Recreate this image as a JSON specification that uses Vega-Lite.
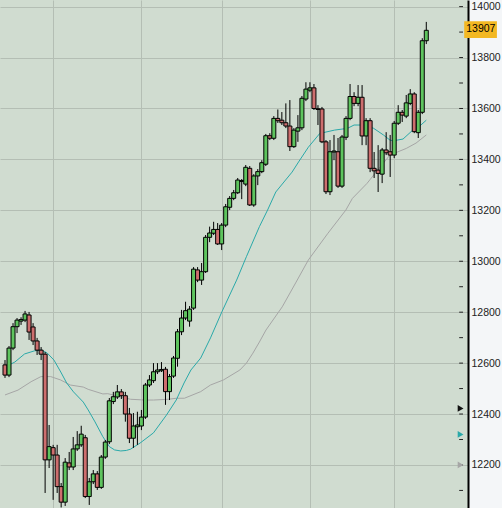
{
  "$schema": "https://vega.github.io/schema/vega-lite/v6.json",
  "width": 468,
  "height": 508,
  "autosize": {"type": "none"},
  "padding": {"left": 0, "top": 0, "right": 34, "bottom": 0},
  "background": "#f4f6f8",
  "config": {
    "view": {"fill": "#d0dcd0", "stroke": null},
    "font": "Liberation Sans",
    "axisX": {"labels": false, "ticks": false, "domain": false, "grid": true, "gridColor": "#b4beb4", "gridWidth": 1, "title": null},
    "axisY": {"orient": "right", "grid": true, "gridColor": "#b4beb4", "gridWidth": 1, "ticks": false, "domainColor": "#000000", "domainWidth": 2, "labelPadding": 3, "labelFont": "Liberation Sans", "labelFontSize": 10.5, "labelColor": "#222222", "labelFlush": false, "labelOverlap": false, "title": null, "format": "d"}
  },
  "datasets": {
    "candles": [
      {"i":0,"open":12593,"high":12612,"low":12542,"close":12553},
      {"i":1,"open":12553,"high":12667,"low":12545,"close":12659},
      {"i":2,"open":12659,"high":12757,"low":12651,"close":12743},
      {"i":3,"open":12743,"high":12777,"low":12718,"close":12769},
      {"i":4,"open":12765,"high":12780,"low":12750,"close":12771},
      {"i":5,"open":12769,"high":12805,"low":12761,"close":12793},
      {"i":6,"open":12789,"high":12801,"low":12691,"close":12722},
      {"i":7,"open":12742,"high":12757,"low":12671,"close":12687},
      {"i":8,"open":12687,"high":12699,"low":12632,"close":12651},
      {"i":9,"open":12651,"high":12663,"low":12612,"close":12635},
      {"i":10,"open":12635,"high":12644,"low":12090,"close":12220},
      {"i":11,"open":12220,"high":12357,"low":12188,"close":12272},
      {"i":12,"open":12268,"high":12279,"low":12063,"close":12239},
      {"i":13,"open":12239,"high":12279,"low":12090,"close":12115},
      {"i":14,"open":12115,"high":12129,"low":12033,"close":12054},
      {"i":15,"open":12054,"high":12227,"low":12039,"close":12211},
      {"i":16,"open":12208,"high":12251,"low":12180,"close":12192},
      {"i":17,"open":12192,"high":12310,"low":12180,"close":12263},
      {"i":18,"open":12263,"high":12333,"low":12255,"close":12279},
      {"i":19,"open":12279,"high":12354,"low":12271,"close":12321},
      {"i":20,"open":12307,"high":12318,"low":12070,"close":12076},
      {"i":21,"open":12076,"high":12149,"low":12043,"close":12134},
      {"i":22,"open":12134,"high":12180,"low":12125,"close":12165},
      {"i":23,"open":12165,"high":12176,"low":12102,"close":12112},
      {"i":24,"open":12112,"high":12239,"low":12106,"close":12231},
      {"i":25,"open":12231,"high":12298,"low":12224,"close":12290},
      {"i":26,"open":12291,"high":12463,"low":12282,"close":12452},
      {"i":27,"open":12449,"high":12487,"low":12439,"close":12468},
      {"i":28,"open":12467,"high":12514,"low":12459,"close":12487},
      {"i":29,"open":12487,"high":12498,"low":12459,"close":12472},
      {"i":30,"open":12472,"high":12487,"low":12370,"close":12400},
      {"i":31,"open":12400,"high":12424,"low":12286,"close":12305},
      {"i":32,"open":12305,"high":12404,"low":12267,"close":12353},
      {"i":33,"open":12350,"high":12409,"low":12279,"close":12357},
      {"i":34,"open":12353,"high":12416,"low":12337,"close":12388},
      {"i":35,"open":12388,"high":12522,"low":12381,"close":12514},
      {"i":36,"open":12514,"high":12553,"low":12506,"close":12534},
      {"i":37,"open":12531,"high":12600,"low":12522,"close":12566},
      {"i":38,"open":12566,"high":12600,"low":12557,"close":12573},
      {"i":39,"open":12570,"high":12604,"low":12565,"close":12575},
      {"i":40,"open":12576,"high":12585,"low":12436,"close":12488},
      {"i":41,"open":12488,"high":12557,"low":12455,"close":12547},
      {"i":42,"open":12549,"high":12628,"low":12542,"close":12620},
      {"i":43,"open":12619,"high":12734,"low":12586,"close":12723},
      {"i":44,"open":12723,"high":12809,"low":12710,"close":12777},
      {"i":45,"open":12777,"high":12841,"low":12769,"close":12806},
      {"i":46,"open":12765,"high":12824,"low":12743,"close":12812},
      {"i":47,"open":12816,"high":12977,"low":12809,"close":12969},
      {"i":48,"open":12966,"high":12977,"low":12918,"close":12926},
      {"i":49,"open":12926,"high":12993,"low":12907,"close":12959},
      {"i":50,"open":12959,"high":13103,"low":12954,"close":13094},
      {"i":51,"open":13094,"high":13136,"low":13075,"close":13111},
      {"i":52,"open":13110,"high":13155,"low":13103,"close":13125},
      {"i":53,"open":13125,"high":13150,"low":13064,"close":13068},
      {"i":54,"open":13068,"high":13150,"low":13044,"close":13142},
      {"i":55,"open":13142,"high":13225,"low":13134,"close":13214},
      {"i":56,"open":13212,"high":13256,"low":13201,"close":13247},
      {"i":57,"open":13247,"high":13280,"low":13240,"close":13269},
      {"i":58,"open":13269,"high":13327,"low":13264,"close":13319},
      {"i":59,"open":13313,"high":13323,"low":13244,"close":13317},
      {"i":60,"open":13303,"high":13378,"low":13295,"close":13369},
      {"i":61,"open":13365,"high":13374,"low":13217,"close":13221},
      {"i":62,"open":13221,"high":13342,"low":13214,"close":13335},
      {"i":63,"open":13335,"high":13362,"low":13299,"close":13352},
      {"i":64,"open":13352,"high":13397,"low":13346,"close":13387},
      {"i":65,"open":13381,"high":13500,"low":13374,"close":13493},
      {"i":66,"open":13493,"high":13503,"low":13476,"close":13483},
      {"i":67,"open":13483,"high":13570,"low":13476,"close":13561},
      {"i":68,"open":13561,"high":13596,"low":13543,"close":13552},
      {"i":69,"open":13554,"high":13586,"low":13535,"close":13544},
      {"i":70,"open":13544,"high":13620,"low":13523,"close":13531},
      {"i":71,"open":13531,"high":13633,"low":13433,"close":13450},
      {"i":72,"open":13450,"high":13523,"low":13445,"close":13515},
      {"i":73,"open":13511,"high":13574,"low":13469,"close":13524},
      {"i":74,"open":13524,"high":13649,"low":13515,"close":13640},
      {"i":75,"open":13637,"high":13703,"low":13629,"close":13676},
      {"i":76,"open":13672,"high":13703,"low":13664,"close":13681},
      {"i":77,"open":13681,"high":13696,"low":13594,"close":13600},
      {"i":78,"open":13599,"high":13613,"low":13535,"close":13596},
      {"i":79,"open":13598,"high":13606,"low":13464,"close":13469},
      {"i":80,"open":13469,"high":13476,"low":13264,"close":13273},
      {"i":81,"open":13273,"high":13476,"low":13260,"close":13430},
      {"i":82,"open":13429,"high":13496,"low":13397,"close":13433},
      {"i":83,"open":13430,"high":13484,"low":13288,"close":13295},
      {"i":84,"open":13295,"high":13496,"low":13288,"close":13488},
      {"i":85,"open":13487,"high":13570,"low":13476,"close":13561},
      {"i":86,"open":13561,"high":13696,"low":13554,"close":13647},
      {"i":87,"open":13647,"high":13664,"low":13609,"close":13620},
      {"i":88,"open":13620,"high":13692,"low":13609,"close":13644},
      {"i":89,"open":13644,"high":13692,"low":13456,"close":13492},
      {"i":90,"open":13492,"high":13562,"low":13456,"close":13552},
      {"i":91,"open":13552,"high":13562,"low":13350,"close":13365},
      {"i":92,"open":13365,"high":13429,"low":13327,"close":13355},
      {"i":93,"open":13358,"high":13456,"low":13272,"close":13345},
      {"i":94,"open":13342,"high":13445,"low":13307,"close":13437},
      {"i":95,"open":13437,"high":13507,"low":13417,"close":13426},
      {"i":96,"open":13430,"high":13496,"low":13331,"close":13417},
      {"i":97,"open":13417,"high":13551,"low":13405,"close":13542},
      {"i":98,"open":13542,"high":13613,"low":13535,"close":13585},
      {"i":99,"open":13585,"high":13594,"low":13547,"close":13574},
      {"i":100,"open":13570,"high":13653,"low":13562,"close":13622},
      {"i":101,"open":13620,"high":13676,"low":13613,"close":13657},
      {"i":102,"open":13657,"high":13664,"low":13503,"close":13509},
      {"i":103,"open":13505,"high":13594,"low":13484,"close":13585},
      {"i":104,"open":13585,"high":13876,"low":13578,"close":13866},
      {"i":105,"open":13866,"high":13940,"low":13853,"close":13907}
    ],
    "fast": [
      {"i":0,"v":12585},{"i":2.44,"v":12604},{"i":4.88,"v":12636},{"i":7.32,"v":12648},{"i":9.02,"v":12651},
      {"i":10.49,"v":12640},{"i":12.2,"v":12612},{"i":13.9,"v":12565},{"i":15.37,"v":12522},{"i":17.07,"v":12487},
      {"i":19.51,"v":12447},{"i":20.73,"v":12416},{"i":21.46,"v":12396},{"i":22.44,"v":12369},{"i":24.39,"v":12311},
      {"i":26.02,"v":12272},{"i":27.32,"v":12259},{"i":28.85,"v":12255},{"i":30.24,"v":12257},{"i":31.29,"v":12262},
      {"i":33.66,"v":12286},{"i":37.0,"v":12326},{"i":40.24,"v":12396},{"i":42.68,"v":12455},{"i":44.63,"v":12522},
      {"i":46.34,"v":12573},{"i":48.78,"v":12620},{"i":51.22,"v":12699},{"i":54.07,"v":12802},{"i":57.73,"v":12926},
      {"i":60.17,"v":13018},{"i":63.41,"v":13136},{"i":65.44,"v":13201},{"i":67.49,"v":13272},{"i":69.93,"v":13319},
      {"i":71.54,"v":13350},{"i":73.17,"v":13390},{"i":75.61,"v":13448},{"i":78.46,"v":13502},{"i":82.12,"v":13515},
      {"i":85.37,"v":13522},{"i":87.0,"v":13535},{"i":89.44,"v":13535},{"i":91.88,"v":13522},{"i":94.32,"v":13496},
      {"i":95.93,"v":13476},{"i":96.76,"v":13473},{"i":99.2,"v":13480},{"i":101.63,"v":13515},{"i":102.44,"v":13518},
      {"i":105,"v":13554}
    ],
    "slow": [
      {"i":0,"v":12475},{"i":3.24,"v":12494},{"i":6.51,"v":12527},{"i":8.95,"v":12547},{"i":11.39,"v":12547},
      {"i":13.83,"v":12534},{"i":16.27,"v":12514},{"i":19.51,"v":12506},{"i":20.73,"v":12497},{"i":24.39,"v":12479},
      {"i":25.61,"v":12480},{"i":31.29,"v":12458},{"i":34.95,"v":12455},{"i":37.0,"v":12455},{"i":40.66,"v":12458},
      {"i":42.68,"v":12462},{"i":44.71,"v":12462},{"i":48.78,"v":12488},{"i":51.22,"v":12514},{"i":54.46,"v":12534},
      {"i":58.54,"v":12573},{"i":60.17,"v":12600},{"i":61.78,"v":12639},{"i":63.41,"v":12683},{"i":65.05,"v":12730},
      {"i":69.1,"v":12821},{"i":72.44,"v":12915},{"i":75.61,"v":13005},{"i":80.49,"v":13110},{"i":84.95,"v":13201},
      {"i":86.59,"v":13247},{"i":90.24,"v":13306},{"i":91.05,"v":13322},{"i":95.93,"v":13417},{"i":100,"v":13443},
      {"i":102.44,"v":13464},{"i":105,"v":13496}
    ],
    "markers": [
      {"series":"price","v":12422},
      {"series":"fast","v":12320},
      {"series":"slow","v":12200}
    ],
    "ticks": [
      {"v":12100},{"v":12200},{"v":12300},{"v":12400},{"v":12500},{"v":12600},{"v":12700},{"v":12800},{"v":12900},{"v":13000},
      {"v":13100},{"v":13200},{"v":13300},{"v":13400},{"v":13500},{"v":13600},{"v":13700},{"v":13800},{"v":13900},{"v":14000}
    ]
  },
  "encoding": {
    "x": {"type": "quantitative", "scale": {"domain": [0, 114.15], "nice": false, "zero": false}, "axis": {"values": [12, 34, 54, 76, 97]}},
    "y": {"type": "quantitative", "scale": {"domain": [12031, 14026], "nice": false, "zero": false}, "axis": {"values": [12200, 12400, 12600, 12800, 13000, 13200, 13400, 13600, 13800, 14000]}}
  },
  "layer": [
    {
      "data": {"name": "slow"},
      "mark": {"type": "line", "color": "#a6a6a6", "strokeWidth": 1},
      "encoding": {
        "x": {"field": "i", "type": "quantitative", "scale": {"domain": [0, 114.15], "nice": false, "zero": false}, "axis": {"values": [12, 34, 54, 76, 97]}},
        "y": {"field": "v", "type": "quantitative", "scale": {"domain": [12031, 14026], "nice": false, "zero": false}, "axis": {"values": [12200, 12400, 12600, 12800, 13000, 13200, 13400, 13600, 13800, 14000]}}
      }
    },
    {
      "data": {"name": "fast"},
      "mark": {"type": "line", "color": "#2aa9a9", "strokeWidth": 1},
      "encoding": {
        "x": {"field": "i", "type": "quantitative", "scale": {"domain": [0, 114.15], "nice": false, "zero": false}, "axis": {"values": [12, 34, 54, 76, 97]}},
        "y": {"field": "v", "type": "quantitative", "scale": {"domain": [12031, 14026], "nice": false, "zero": false}, "axis": {"values": [12200, 12400, 12600, 12800, 13000, 13200, 13400, 13600, 13800, 14000]}}
      }
    },
    {
      "data": {"name": "candles"},
      "mark": {"type": "rule", "color": "#000000", "strokeWidth": 1},
      "encoding": {
        "x": {"field": "i", "type": "quantitative", "scale": {"domain": [0, 114.15], "nice": false, "zero": false}, "axis": {"values": [12, 34, 54, 76, 97]}},
        "y": {"field": "low", "type": "quantitative", "scale": {"domain": [12031, 14026], "nice": false, "zero": false}, "axis": {"values": [12200, 12400, 12600, 12800, 13000, 13200, 13400, 13600, 13800, 14000]}},
        "y2": {"field": "high"}
      }
    },
    {
      "data": {"name": "candles"},
      "mark": {"type": "bar", "size": 4, "stroke": "#000000", "strokeWidth": 1},
      "encoding": {
        "x": {"field": "i", "type": "quantitative", "scale": {"domain": [0, 114.15], "nice": false, "zero": false}, "axis": {"values": [12, 34, 54, 76, 97]}},
        "y": {"field": "open", "type": "quantitative", "scale": {"domain": [12031, 14026], "nice": false, "zero": false}, "axis": {"values": [12200, 12400, 12600, 12800, 13000, 13200, 13400, 13600, 13800, 14000]}},
        "y2": {"field": "close"},
        "color": {"condition": {"test": "datum.close >= datum.open", "value": "#5ec45e"}, "value": "#cd6e6e"}
      }
    },
    {
      "data": {"name": "ticks"},
      "mark": {"type": "rule", "color": "#222222", "strokeWidth": 1},
      "encoding": {
        "x": {"datum": 113.2, "type": "quantitative", "scale": {"domain": [0, 114.15], "nice": false, "zero": false}, "axis": {"values": [12, 34, 54, 76, 97]}},
        "x2": {"datum": 114.15},
        "y": {"field": "v", "type": "quantitative", "scale": {"domain": [12031, 14026], "nice": false, "zero": false}, "axis": {"values": [12200, 12400, 12600, 12800, 13000, 13200, 13400, 13600, 13800, 14000]}}
      }
    },
    {
      "data": {"name": "markers"},
      "mark": {"type": "point", "shape": "triangle-right", "filled": true, "size": 45, "opacity": 1},
      "encoding": {
        "x": {"datum": 113.55, "type": "quantitative", "scale": {"domain": [0, 114.15], "nice": false, "zero": false}, "axis": {"values": [12, 34, 54, 76, 97]}},
        "y": {"field": "v", "type": "quantitative", "scale": {"domain": [12031, 14026], "nice": false, "zero": false}, "axis": {"values": [12200, 12400, 12600, 12800, 13000, 13200, 13400, 13600, 13800, 14000]}},
        "color": {"field": "series", "type": "nominal", "scale": {"domain": ["price", "fast", "slow"], "range": ["#111111", "#2aa9a9", "#a6a6a6"]}, "legend": null}
      }
    },
    {
      "data": {"name": "candles"},
      "transform": [{"filter": "datum.i === 105"}],
      "mark": {"type": "rect", "color": "#f3b823"},
      "encoding": {
        "x": {"datum": 114.45, "type": "quantitative", "scale": {"domain": [0, 114.15], "nice": false, "zero": false}, "axis": {"values": [12, 34, 54, 76, 97]}},
        "x2": {"datum": 122.6},
        "y": {"datum": 13877, "type": "quantitative", "scale": {"domain": [12031, 14026], "nice": false, "zero": false}, "axis": {"values": [12200, 12400, 12600, 12800, 13000, 13200, 13400, 13600, 13800, 14000]}},
        "y2": {"datum": 13943}
      }
    },
    {
      "data": {"name": "candles"},
      "transform": [{"filter": "datum.i === 105"}],
      "mark": {"type": "text", "align": "left", "baseline": "middle", "font": "Liberation Sans", "fontSize": 10.5, "color": "#000000", "dx": 2, "dy": -1},
      "encoding": {
        "x": {"datum": 114.45, "type": "quantitative", "scale": {"domain": [0, 114.15], "nice": false, "zero": false}, "axis": {"values": [12, 34, 54, 76, 97]}},
        "y": {"field": "close", "type": "quantitative", "scale": {"domain": [12031, 14026], "nice": false, "zero": false}, "axis": {"values": [12200, 12400, 12600, 12800, 13000, 13200, 13400, 13600, 13800, 14000]}},
        "text": {"field": "close", "type": "quantitative", "format": "d"}
      }
    }
  ]
}
